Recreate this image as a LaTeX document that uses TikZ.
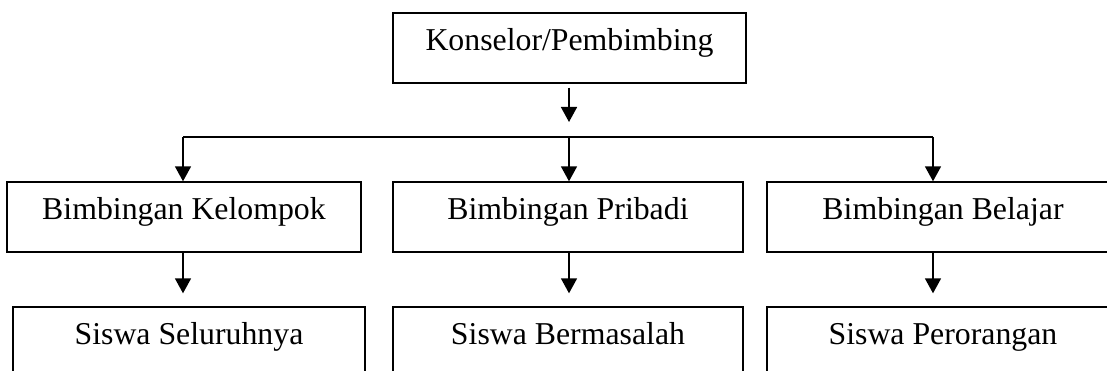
\documentclass[tikz,border=0pt]{standalone}
\usepackage{fontspec}
\setmainfont{Liberation Serif}
\usetikzlibrary{arrows.meta}
\begin{document}
\begin{tikzpicture}[x=1pt,y=-1pt,
  box/.style={draw,line width=1.4pt,inner sep=0pt,minimum height=70pt,
    font=\fontsize{31.8}{38}\selectfont,text height=0.68em,text depth=0.22em},
  arr/.style={line width=1.6pt,-{Triangle[length=15pt,width=16pt]}},
  bus/.style={line width=1.6pt}]
\useasboundingbox (0,0) rectangle (1107,371);
\clip (0,0) rectangle (1107,371);
\node[box,minimum width=353pt] (top) at (569.5,48) {Konselor/Pembimbing};
\node[box,minimum width=354pt] (L1) at (184,217) {Bimbingan Kelompok};
\node[box,minimum width=350pt] (M1) at (568,217) {Bimbingan Pribadi};
\node[box,minimum width=352pt] (R1) at (943,217) {Bimbingan Belajar};
\node[box,minimum width=352pt] (L2) at (189,342) {Siswa Seluruhnya};
\node[box,minimum width=350pt] (M2) at (568,342) {Siswa Bermasalah};
\node[box,minimum width=352pt] (R2) at (943,342) {Siswa Perorangan};
\coordinate (busL) at (183,137);
\coordinate (busM) at (569,137);
\coordinate (busR) at (933,137);
\draw[bus] (busL) -- (busR);
\draw[arr] ([yshift=-4pt]top.south -| busM) -- ([yshift=15pt]busM);
\draw[arr] (busL) -- (busL |- L1.north);
\draw[arr] (busM) -- (busM |- M1.north);
\draw[arr] (busR) -- (busR |- R1.north);
\draw[arr] (L1.south -| busL) -- ([yshift=13pt]L2.north -| busL);
\draw[arr] (M1.south -| busM) -- ([yshift=13pt]M2.north -| busM);
\draw[arr] (R1.south -| busR) -- ([yshift=13pt]R2.north -| busR);
\end{tikzpicture}
\end{document}
